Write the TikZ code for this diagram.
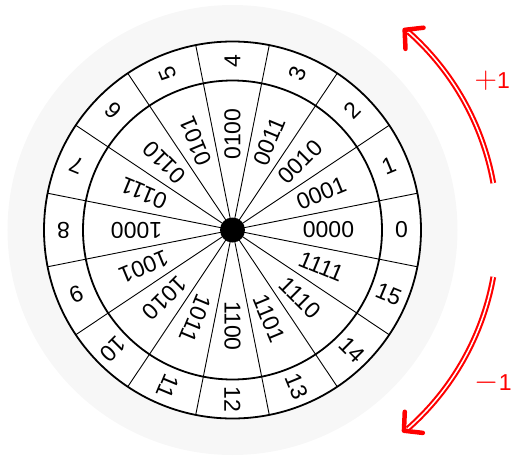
\documentclass[tikz,border=0pt]{standalone}
\usepackage{fontspec}
\usepackage{graphicx}
\setmainfont{Liberation Sans}
\begin{document}
\begin{tikzpicture}[x=1pt,y=1pt,
  ring/.style={line width=1.8pt},
  spoke/.style={line width=0.9pt},
  lbl/.style={font=\fontsize{23}{23}\selectfont, inner sep=0pt},
  sig/.style={red, font=\fontsize{23}{23}\selectfont, inner sep=0pt, anchor=base west},
  turn/.style={red, line width=2.1pt, double=white, double distance=1.5pt},
  head/.style={red, line width=4.5pt, line cap=round, line join=round}]
\useasboundingbox (-232.5,-226) rectangle (278.5,230);
\fill[black!3] (0,0) circle (225);
\fill[white] (0,0) circle (188.5);
\foreach \k in {0,...,15} \draw[spoke] (0,0) -- ({\k*22.5+11.25}:188.5);
\draw[ring] (0,0) circle (149.5);
\draw[ring] (0,0) circle (188.5);
\fill (0,0) circle (12.5);
\foreach \k/\b in {0/0000,1/0001,2/0010,3/0011,4/0100,5/0101,6/0110,7/0111,
                   8/1000,9/1001,10/1010,11/1011,12/1100,13/1101,14/1110,15/1111}{
  \node[lbl, rotate=\k*22.5] (b\k) at ({\k*22.5}:96) {\b};
  \node[lbl, rotate=\k*22.5] (n\k) at ({\k*22.5}:169) {\k};
}
% +1 arrow
\coordinate (tipA) at (49.3:264);
\draw[turn] (10.2:265) arc[start angle=10.2, end angle=48.4, radius=265];
\draw[head, shift={(tipA)}] (6.5:19) -- (0,0) -- (-87.5:19);
\node[sig] (plus) at (242,142) {\scalebox{1.25}{$+$}1};
% -1 arrow
\coordinate (tipB) at (-49.5:264);
\draw[turn] (-10.2:265) arc[start angle=-10.2, end angle=-48.6, radius=265];
\draw[head, shift={(tipB)}] (87.5:19) -- (0,0) -- (-6.5:19);
\node[sig] (minus) at (242,-160) {\scalebox{1.25}{$-$}1};
\end{tikzpicture}
\end{document}
